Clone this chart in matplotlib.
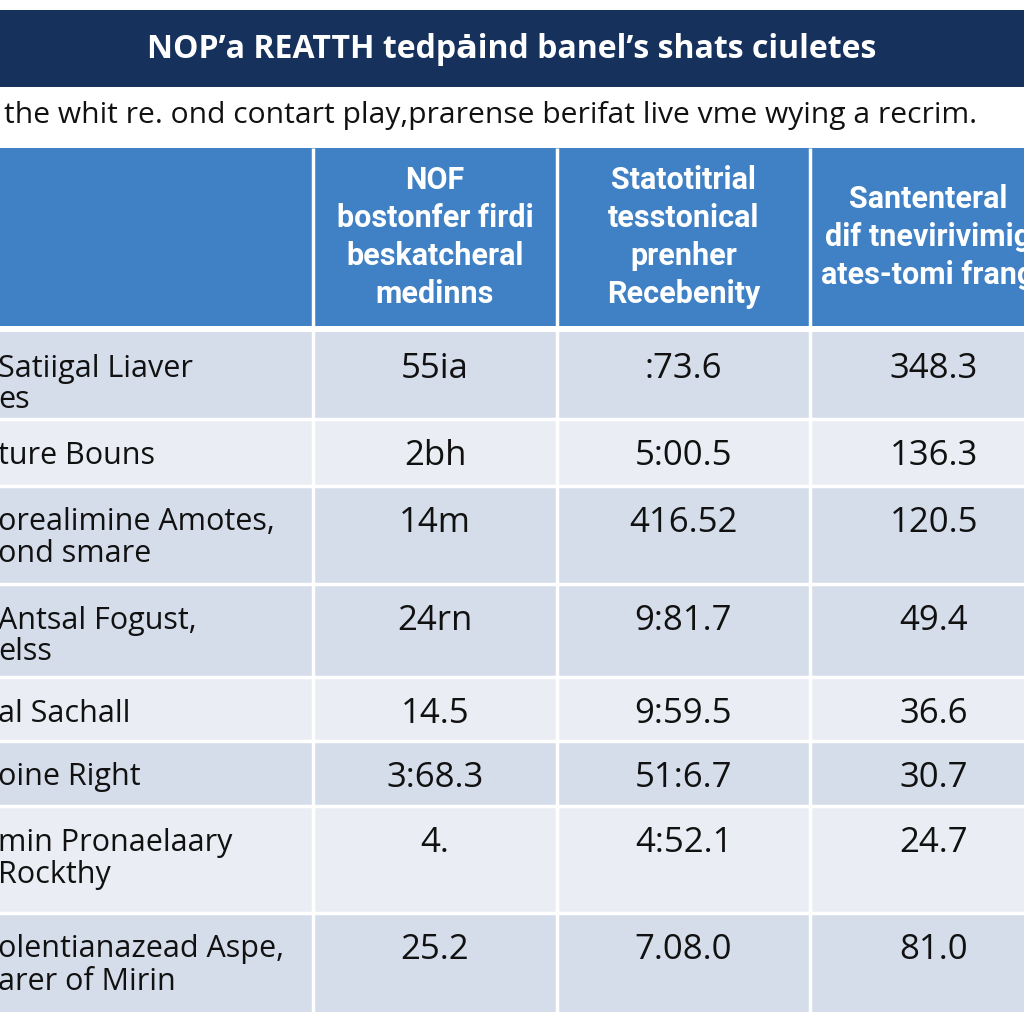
import matplotlib
matplotlib.use("Agg")
import matplotlib.pyplot as plt
from matplotlib.patches import Rectangle
from matplotlib import font_manager

# ---------------- data ----------------
title = "NOP\u2019a REATTH tedp\u0227ind banel\u2019s shats ciuletes"
subtitle = "the whit re. ond contart play,prarense berifat live vme wying a recrim."
headers = ["",
           "NOF\nbostonfer firdi\nbeskatcheral\nmedinns",
           "Statotitrial\ntesstonical\nprenher\nRecebenity",
           "Santenteral\ndif tnevirivimig\nates-tomi frang"]
row_labels = ["Satiigal Liaver\nes",
              "ture Bouns",
              "orealimine Amotes,\nond smare",
              "Antsal Fogust,\nelss",
              "al Sachall",
              "oine Right",
              "min Pronaelaary\nRockthy",
              "olentianazead Aspe,\narer of Mirin"]
col_a = ["55ia", "2bh", "14m", "24rn", "14.5", "3:68.3", "4.", "25.2"]
col_b = [":73.6", "5:00.5", "416.52", "9:81.7", "9:59.5", "51:6.7", "4:52.1", "7.08.0"]
col_c = ["348.3", "136.3", "120.5", "49.4", "36.6", "30.7", "24.7", "81.0"]

# ---------------- layout ----------------
W = H = 1024
col_edges = [-40, 313, 557, 810, 1058]
header_centers = [None, 435, 683.5, 928]
row_edges = [332, 419, 486, 584, 677, 741, 806, 913, 1012]
row_dark = [True, False, True, True, False, True, False, True]
header_top, header_bot = 148, 326
title_top, title_bot = 10, 87
first_line = 33   # offset of first text line from row top
line_gap = 32

navy = "#15315c"
blue = "#4080c4"
dark = "#d5ddea"
light = "#eaeef4"

avail = {f.name for f in font_manager.fontManager.ttflist}
def pick(*names):
    for n in names:
        if n in avail:
            return n
    return "DejaVu Sans"

f_title = pick("Open Sans", "Roboto")
f_head = pick("Roboto", "Open Sans")
f_body = pick("Open Sans", "Noto Sans")

fig = plt.figure(figsize=(10.24, 10.24), dpi=100)
ax = fig.add_axes([0, 0, 1, 1])
ax.set_xlim(0, W)
ax.set_ylim(H, 0)
ax.axis("off")
fig.patch.set_facecolor("white")

# title bar
ax.add_patch(Rectangle((-10, title_top), W + 20, title_bot - title_top,
                       facecolor=navy, edgecolor="none"))
ax.text(W / 2, 50, title, color="white",
        fontsize=23, fontweight="bold", family=[f_title, "DejaVu Sans"],
        ha="center", va="center")

# subtitle
ax.text(4, 115, subtitle, color="#111111", fontsize=21.6,
        family=[f_body, "DejaVu Sans"], ha="left", va="center")

# header
for i in range(len(headers)):
    x0, x1 = col_edges[i], col_edges[i + 1]
    ax.add_patch(Rectangle((x0, header_top), x1 - x0, header_bot - header_top,
                           facecolor=blue, edgecolor="none"))
    if headers[i]:
        ax.text(header_centers[i], (header_top + header_bot) / 2, headers[i],
                color="white", fontsize=22, fontweight="bold",
                family=[f_head, "DejaVu Sans"], ha="center", va="center",
                linespacing=1.33)

# body
cols = [row_labels, col_a, col_b, col_c]
for r in range(len(row_labels)):
    y0, y1 = row_edges[r], row_edges[r + 1]
    fc = dark if row_dark[r] else light
    for c in range(len(cols)):
        x0, x1 = col_edges[c], col_edges[c + 1]
        ax.add_patch(Rectangle((x0, y0), x1 - x0, y1 - y0,
                               facecolor=fc, edgecolor="none"))
        txt = cols[c][r]
        if c == 0:
            for k, line in enumerate(txt.split("\n")):
                ax.text(-2, y0 + first_line + k * line_gap, line,
                        color="#111111", fontsize=22,
                        family=[f_body, "DejaVu Sans"], ha="left",
                        va="center_baseline")
        else:
            ax.text((x0 + x1) / 2, y0 + first_line, txt, color="#111111",
                    fontsize=25, family=[f_body, "DejaVu Sans"],
                    ha="center", va="center_baseline")

# white grid lines
for x in col_edges[1:-1]:
    ax.plot([x, x], [header_top, row_edges[-1]], color="white", lw=2.5,
            solid_capstyle="butt")
for y in row_edges[1:-1]:
    ax.plot([-10, W + 10], [y, y], color="white", lw=2.5, solid_capstyle="butt")
ax.add_patch(Rectangle((-10, header_bot), W + 20, row_edges[0] - header_bot,
                       facecolor="white", edgecolor="none"))

fig.savefig("out.png", dpi=100, facecolor="white")
